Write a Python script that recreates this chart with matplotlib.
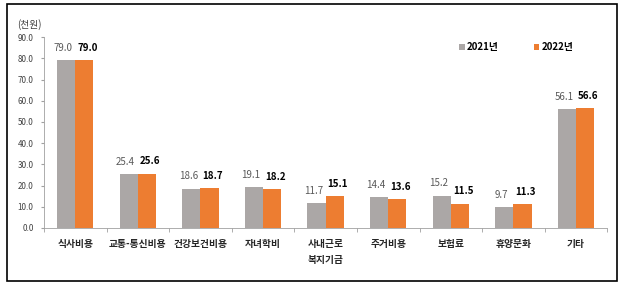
import matplotlib
matplotlib.use("Agg")
import matplotlib.pyplot as plt
import numpy as np
from matplotlib.patches import Rectangle

plt.rcParams["font.family"] = ["Noto Sans CJK KR", "DejaVu Sans"]

categories = ["식사비용", "교통-통신비용", "건강보건비용", "자녀학비", "사내근로\n복지기금",
              "주거비용", "보험료", "휴양문화", "기타"]
vals_2021 = [79.0, 25.4, 18.6, 19.1, 11.7, 14.4, 15.2, 9.7, 56.1]
vals_2022 = [79.0, 25.6, 18.7, 18.2, 15.1, 13.6, 11.5, 11.3, 56.6]
yticks = [0, 10, 20, 30, 40, 50, 60, 70, 80, 90]

GRAY = "#ABA7A6"
ORANGE = "#ED7D31"

fig = plt.figure(figsize=(6.28, 2.87), dpi=100)
fig.patches.append(Rectangle((0.011, 0.021), 0.971, 0.965, transform=fig.transFigure,
                             fill=False, edgecolor="black", linewidth=1.2))

ax = fig.add_axes([0.070, 0.2056, 0.897, 0.665])
x = np.arange(len(categories))
w = 0.29
b1 = ax.bar(x - w / 2, vals_2021, w, color=GRAY, label="2021년")
b2 = ax.bar(x + w / 2, vals_2022, w, color=ORANGE, label="2022년")

# labels nudged apart a little, like the source
for rect, v in zip(b1, vals_2021):
    ax.text(rect.get_x() + rect.get_width() / 2 - 0.05, v + 3.5, f"{v:.1f}",
            ha="center", va="bottom", fontsize=7, color="#595959")
for rect, v in zip(b2, vals_2022):
    ax.text(rect.get_x() + rect.get_width() / 2 + 0.05, v + 3.5, f"{v:.1f}",
            ha="center", va="bottom", fontsize=7, color="black", fontweight="bold")

ax.set_xlim(-0.5, len(categories) - 0.5)
ax.set_ylim(0, 90)
ax.set_yticks(yticks)
ax.set_yticklabels([f"{t:.1f}" for t in yticks], fontsize=5.8, color="#404040")
ax.set_xticks(x)
ax.set_xticklabels(categories, fontsize=7, color="#262626", fontweight="bold",
                   linespacing=1.7, va="top")
ax.set_xticks(np.arange(len(categories) + 1) - 0.5, minor=True)
ax.tick_params(axis="x", which="major", length=0, pad=8)
ax.tick_params(axis="x", which="minor", length=3, color="#A0A0A0", direction="out")
ax.tick_params(axis="y", length=2.5, color="#A0A0A0", pad=5)

for s in ["top", "right"]:
    ax.spines[s].set_visible(False)
ax.spines["left"].set_color("#A0A0A0")
ax.spines["bottom"].set_color("#A0A0A0")
ax.spines["left"].set_linewidth(0.6)
ax.spines["bottom"].set_linewidth(0.6)

fig.text(0.027, 0.915, "(천원)", fontsize=7, color="#404040", va="center")

ax.legend(loc="upper right", bbox_to_anchor=(0.955, 1.02), ncol=2, frameon=False,
          handlelength=0.6, handleheight=0.6, handletextpad=0.2,
          columnspacing=3.6, prop={"weight": "bold", "size": 7})

fig.savefig("out.png", dpi=100)
